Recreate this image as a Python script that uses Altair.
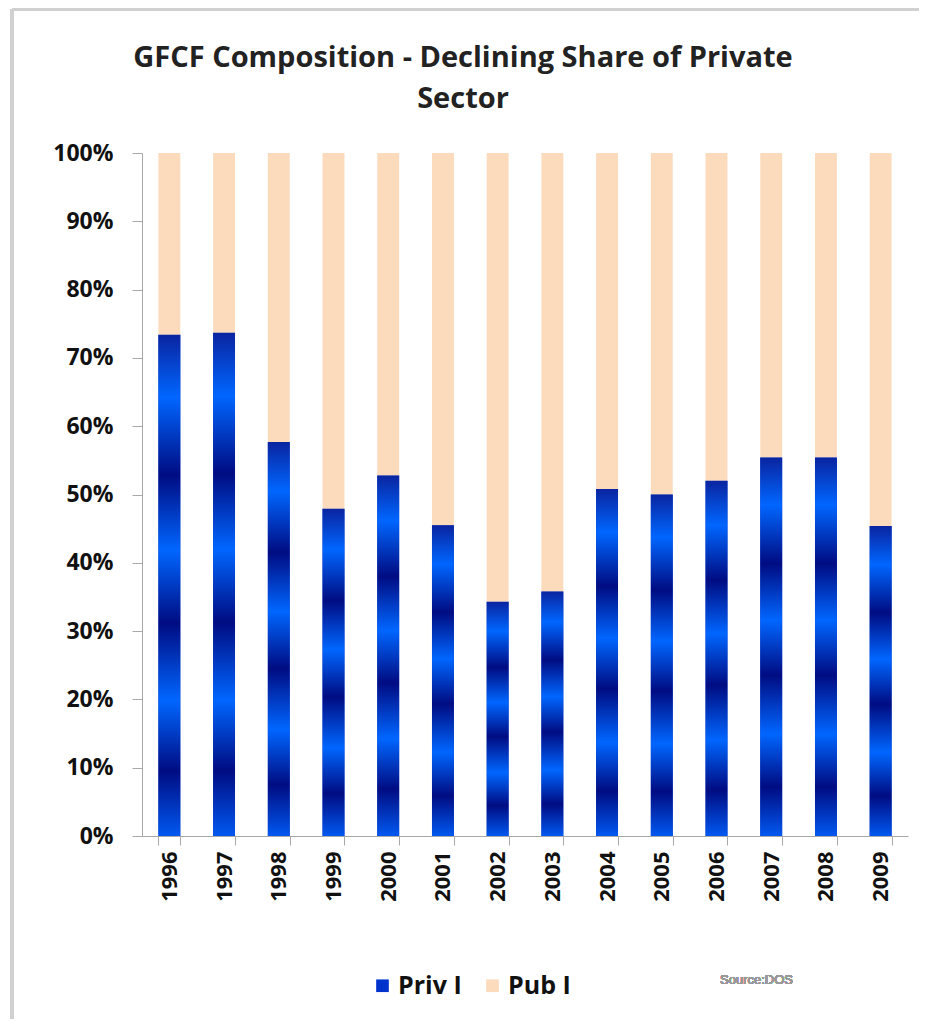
import altair as alt
import pandas as pd

years = ["1996", "1997", "1998", "1999", "2000", "2001", "2002",
         "2003", "2004", "2005", "2006", "2007", "2008", "2009"]
priv = [73.4, 73.7, 57.7, 47.9, 52.8, 45.5, 34.3, 35.8, 50.8, 50.0, 52.0, 55.4, 55.4, 45.4]
pub = [26.6, 26.3, 42.3, 52.1, 47.2, 54.5, 65.7, 64.2, 49.2, 50.0, 48.0, 44.6, 44.6, 54.6]
series = ["Priv I", "Pub I"]
y_ticks = [0, 10, 20, 30, 40, 50, 60, 70, 80, 90, 100]

rows = []
for i, yr in enumerate(years):
    rows.append({"year": yr, "series": series[0], "value": priv[i], "order": 0})
    rows.append({"year": yr, "series": series[1], "value": pub[i], "order": 1})
df = pd.DataFrame(rows)

FONT = "Open Sans"
W, H = 766, 683

xenc = alt.X("year:N", sort=years, title=None,
             scale=alt.Scale(paddingInner=0.6, paddingOuter=0.3),
             axis=alt.Axis(labelAngle=270, labelFont=FONT, labelFontSize=22,
                           labelFontWeight="bold", labelColor="#111111",
                           tickBand="extent", tickSize=9, tickColor="#a8a8a8",
                           domainColor="#a8a8a8", labelPadding=6, grid=False))
yscale = alt.Scale(domain=[0, 100], nice=False)

base = alt.Chart(df).mark_bar().encode(
    x=xenc,
    y=alt.Y("value:Q", stack="zero", scale=yscale, title=None,
            axis=alt.Axis(values=y_ticks, labelExpr="datum.value + '%'",
                          labelFont=FONT, labelFontSize=23, labelFontWeight="bold",
                          labelColor="#111111", tickSize=10, tickColor="#a8a8a8",
                          domainColor="#a8a8a8", labelPadding=19, grid=False)),
    color=alt.Color("series:N", sort=series,
                    scale=alt.Scale(domain=series, range=["#0033cc", "#fcdabc"]),
                    legend=alt.Legend(title=None, orient="none", direction="horizontal",
                                      legendX=228, legendY=820, symbolType="square",
                                      symbolSize=160, labelFont=FONT, labelFontSize=25,
                                      labelFontWeight="bold", labelColor="#111111",
                                      columnPadding=18, labelOffset=3,
                                      symbolStrokeWidth=0)),
    order=alt.Order("order:Q"),
)

grad = alt.LinearGradient(
    gradient="linear", x1=0, x2=0, y1=0, y2=1,
    stops=[
        alt.GradientStop(offset=0.0, color="#0a24a0"),
        alt.GradientStop(offset=0.125, color="#0066ff"),
        alt.GradientStop(offset=0.28, color="#000c82"),
        alt.GradientStop(offset=0.43, color="#0066ff"),
        alt.GradientStop(offset=0.575, color="#000c82"),
        alt.GradientStop(offset=0.73, color="#0066ff"),
        alt.GradientStop(offset=0.87, color="#000c82"),
        alt.GradientStop(offset=1.0, color="#0058f0"),
    ],
)

priv_layer = alt.Chart(df).transform_filter(
    alt.datum.series == "Priv I"
).mark_bar(color=grad).encode(
    x=alt.X("year:N", sort=years),
    y=alt.Y("value:Q", stack=None, scale=yscale),
)

source = alt.Chart(df).mark_text(
    text="Source:DOS", font="Liberation Sans", fontSize=13, color="#999999",
    align="left", baseline="middle"
).encode(x=alt.value(578), y=alt.value(827))

frame_left = alt.Chart(df).mark_rule(color="#d0d0d0", strokeWidth=3).encode(
    x=alt.value(-130), y=alt.value(-144), y2=alt.value(H + 190))
frame_top = alt.Chart(df).mark_rule(color="#d0d0d0", strokeWidth=3).encode(
    x=alt.value(-130), x2=alt.value(W + 20), y=alt.value(-144))

chart = alt.layer(frame_left, frame_top, base, priv_layer, source).properties(
    width=W, height=H,
    background="white",
    title=alt.Title(["GFCF Composition - Declining Share of Private", "Sector"],
                    font=FONT, fontSize=29, fontWeight="bold", color="#222222",
                    anchor="middle", dx=-62, offset=0, dy=106, lineHeight=41),
    autosize=alt.AutoSizeParams(type="none"),
    padding={"left": 134, "top": 145, "right": 11, "bottom": 183},
).configure_view(strokeWidth=0, stroke="transparent")

chart.save("out.html", embed_options={"renderer": "svg", "actions": False})
